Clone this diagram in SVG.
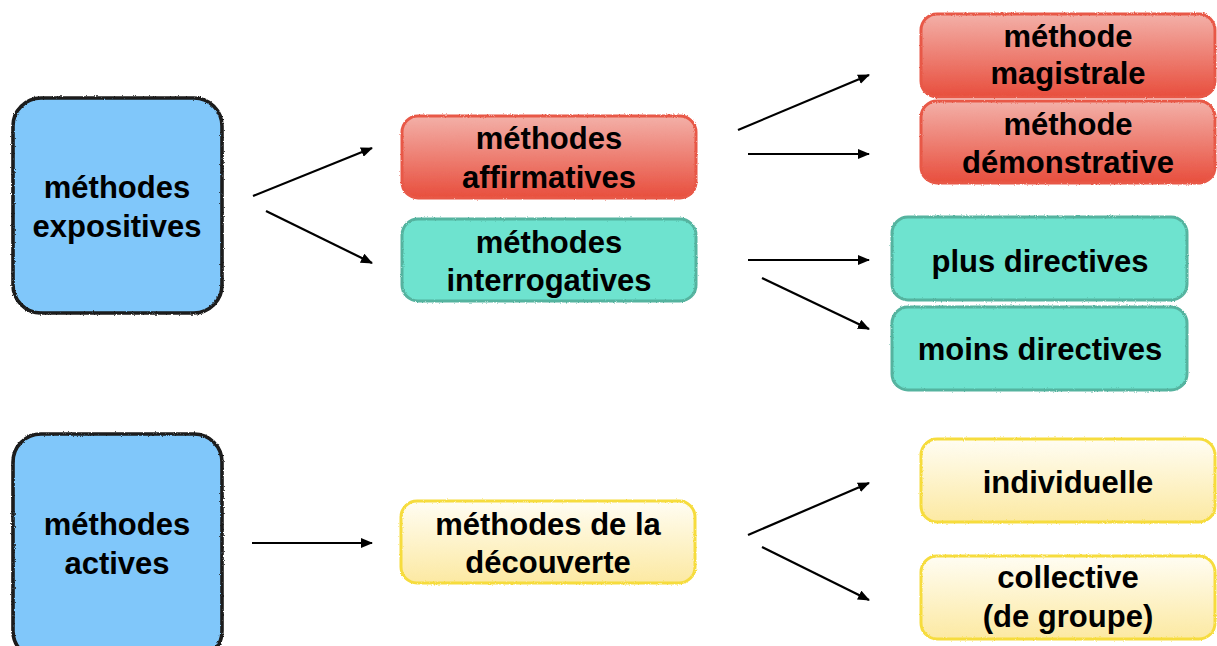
<svg xmlns="http://www.w3.org/2000/svg" width="1217" height="646" viewBox="0 0 1217 646">
<defs>
  <linearGradient id="gRed" x1="0" y1="0" x2="0" y2="1">
    <stop offset="0" stop-color="#F3B0A8"/>
    <stop offset="1" stop-color="#E84E3D"/>
  </linearGradient>
  <linearGradient id="gYel" x1="0" y1="0" x2="0" y2="1">
    <stop offset="0" stop-color="#FFFDF3"/>
    <stop offset="1" stop-color="#FCE9A2"/>
  </linearGradient>
  <filter id="rough" x="-5%" y="-5%" width="110%" height="110%">
    <feTurbulence type="fractalNoise" baseFrequency="0.9" numOctaves="2" seed="3" result="n"/>
    <feDisplacementMap in="SourceGraphic" in2="n" scale="2.4" xChannelSelector="R" yChannelSelector="G"/>
  </filter>
  <marker id="ah" viewBox="0 0 12 10" refX="11" refY="5" markerWidth="12" markerHeight="10" markerUnits="userSpaceOnUse" orient="auto">
    <path d="M0,0 L12,5 L0,10 Z" fill="#000"/>
  </marker>
</defs>
<style>
  text { font-family: "Liberation Sans", Arial, Helvetica, sans-serif; font-weight: bold; font-size: 31px; fill: #000; text-anchor: middle; }
  .blue { fill: #80C7FA; stroke: #1a1a1a; stroke-width: 3.6; }
  .red { fill: url(#gRed); stroke: #E85847; stroke-width: 3; }
  .teal { fill: #6EE3CF; stroke: #55B39F; stroke-width: 3; }
  .yel { fill: url(#gYel); stroke: #F6DC3E; stroke-width: 3; }
  .edge { stroke: #000; stroke-width: 2.2; fill: none; marker-end: url(#ah); }
</style>
<rect width="1217" height="646" fill="#fff"/>

<g id="node-expositives">
  <rect class="blue" x="13" y="98" width="209" height="215" rx="28" filter="url(#rough)"/>
  <text x="117" y="198">méthodes</text>
  <text x="117" y="237">expositives</text>
</g>
<g id="node-actives">
  <rect class="blue" x="13" y="434" width="209" height="225" rx="28" filter="url(#rough)"/>
  <text x="117" y="535">méthodes</text>
  <text x="117" y="574">actives</text>
</g>
<g id="node-affirmatives">
  <rect class="red" x="402" y="116" width="294" height="82" rx="16" filter="url(#rough)"/>
  <text x="549" y="149">méthodes</text>
  <text x="549" y="188">affirmatives</text>
</g>
<g id="node-interrogatives">
  <rect class="teal" x="402" y="219" width="294" height="82" rx="16" filter="url(#rough)"/>
  <text x="549" y="253">méthodes</text>
  <text x="549" y="291">interrogatives</text>
</g>
<g id="node-magistrale">
  <rect class="red" x="921" y="14" width="294" height="83" rx="16" filter="url(#rough)"/>
  <text x="1068" y="47">méthode</text>
  <text x="1068" y="84">magistrale</text>
</g>
<g id="node-demonstrative">
  <rect class="red" x="921" y="101" width="294" height="82" rx="16" filter="url(#rough)"/>
  <text x="1068" y="135">méthode</text>
  <text x="1068" y="173">démonstrative</text>
</g>
<g id="node-plus">
  <rect class="teal" x="892" y="217" width="295" height="83" rx="16" filter="url(#rough)"/>
  <text x="1040" y="272">plus directives</text>
</g>
<g id="node-moins">
  <rect class="teal" x="892" y="307" width="295" height="83" rx="16" filter="url(#rough)"/>
  <text x="1040" y="360">moins directives</text>
</g>
<g id="node-decouverte">
  <rect class="yel" x="401" y="501" width="294" height="82" rx="16" filter="url(#rough)"/>
  <text x="548" y="535">méthodes de la</text>
  <text x="548" y="573">découverte</text>
</g>
<g id="node-individuelle">
  <rect class="yel" x="921" y="439" width="294" height="83" rx="16" filter="url(#rough)"/>
  <text x="1068" y="493">individuelle</text>
</g>
<g id="node-collective">
  <rect class="yel" x="921" y="556" width="294" height="83" rx="16" filter="url(#rough)"/>
  <text x="1068" y="588">collective</text>
  <text x="1068" y="627">(de groupe)</text>
</g>

<g id="connectors">
  <line class="edge" x1="253" y1="196" x2="372" y2="148"/>
  <line class="edge" x1="266" y1="211" x2="372" y2="263"/>
  <line class="edge" x1="738" y1="130" x2="869" y2="75"/>
  <line class="edge" x1="748" y1="154" x2="869" y2="154"/>
  <line class="edge" x1="748" y1="260" x2="869" y2="260"/>
  <line class="edge" x1="762" y1="278" x2="869" y2="329"/>
  <line class="edge" x1="252" y1="543" x2="372" y2="543"/>
  <line class="edge" x1="748" y1="535" x2="869" y2="483"/>
  <line class="edge" x1="762" y1="547" x2="869" y2="600"/>
</g>
</svg>
